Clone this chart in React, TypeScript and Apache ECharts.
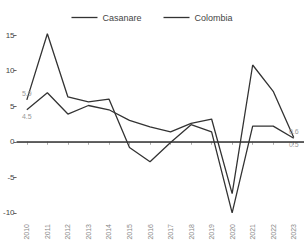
import React, { useEffect, useRef } from "react";
import * as echarts from "echarts";

const years = ["2010","2011","2012","2013","2014","2015","2016","2017","2018","2019","2020","2021","2022","2023"];
const casanare = [5.9, 15.2, 6.3, 5.6, 6.0, -0.8, -2.8, -0.1, 2.4, 1.4, -10.0, 2.2, 2.2, 0.5];
const colombia = [4.5, 6.9, 3.9, 5.1, 4.5, 3.0, 2.1, 1.4, 2.6, 3.2, -7.3, 10.8, 7.1, 0.6];
const yTicks = [-10, -5, 0, 5, 10, 15];

const lblStyle = { fontSize: 7, color: "#999", fontFamily: "Liberation Sans" };

function withEndLabels(values: number[], firstPos: string, lastPos: string) {
  return values.map((v, i) => {
    if (i === 0) {
      return { value: v, label: { show: true, position: firstPos, formatter: String(v), ...lblStyle, distance: 3 } };
    }
    if (i === values.length - 1) {
      return { value: v, label: { show: true, position: lastPos, formatter: String(v), ...lblStyle, distance: 3 } };
    }
    return v;
  });
}

export default function App() {
  const ref = useRef<HTMLDivElement>(null);
  useEffect(() => {
    if (!ref.current) return;
    const chart = echarts.init(ref.current, null, { renderer: "svg" });
    chart.setOption({
      animation: false,
      textStyle: { fontFamily: "Liberation Sans" },
      legend: {
        top: 8,
        left: "center",
        icon: "rect",
        itemWidth: 26,
        itemHeight: 1.3,
        itemGap: 22,
        textStyle: { fontSize: 9, color: "#444" },
        data: ["Casanare", "Colombia"],
      },
      grid: { left: 14, right: 0, top: 28, bottom: 28, containLabel: false },
      xAxis: {
        type: "category",
        data: years,
        boundaryGap: true,
        axisLine: { show: true, lineStyle: { color: "#ccc", type: "dotted", width: 1 } },
        axisTick: { show: true, alignWithLabel: true, length: 3, lineStyle: { color: "#aaa" } },
        axisLabel: { rotate: 90, fontSize: 7, color: "#888", margin: 4, interval: 0 },
      },
      yAxis: {
        type: "value",
        min: -11,
        max: 16,
        axisLine: { show: false },
        splitLine: { show: false },
        axisTick: { show: true, length: 3, customValues: yTicks, lineStyle: { color: "#666" } },
        axisLabel: { fontSize: 8, color: "#444", margin: 2, customValues: yTicks },
      },
      series: [
        {
          name: "Casanare",
          type: "line",
          data: withEndLabels(casanare, "top", "bottom"),
          symbol: "circle",
          symbolSize: 0,
          showSymbol: true,
          lineStyle: { color: "#333", width: 1.3 },
          itemStyle: { color: "#333" },
          markLine: {
            silent: true,
            symbol: "none",
            label: { show: false },
            lineStyle: { color: "#333", type: "solid", width: 1.5 },
            data: [{ yAxis: 0 }],
          },
        },
        {
          name: "Colombia",
          type: "line",
          data: withEndLabels(colombia, "bottom", "top"),
          symbol: "circle",
          symbolSize: 0,
          showSymbol: true,
          lineStyle: { color: "#333", width: 1.3 },
          itemStyle: { color: "#333" },
        },
      ],
    });
    return () => chart.dispose();
  }, []);
  return <div ref={ref} style={{ width: 304, height: 248, position: "absolute", left: 0, top: 0 }} />;
}
